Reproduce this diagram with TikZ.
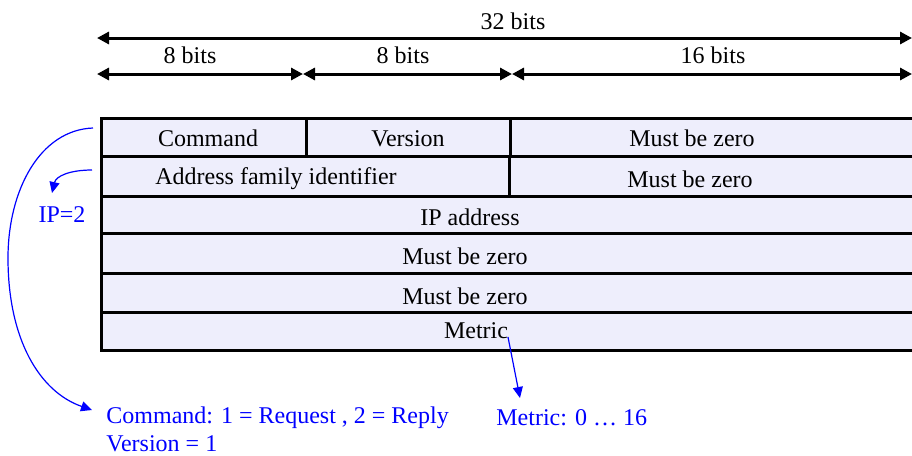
\documentclass[tikz,border=0pt]{standalone}
\usepackage{fontspec}
\setmainfont{Liberation Serif}
\usetikzlibrary{arrows.meta}
\definecolor{cellfill}{RGB}{238,238,252}

\tikzset{
    cell/.style={draw=black, line width=1.5pt, fill=cellfill},
    span/.style={line width=1.5pt, {Triangle[length=6pt,width=6pt]}-{Triangle[length=6pt,width=6pt]}},
    field/.style={inner sep=0pt},
    note/.style={text=blue, inner sep=0pt, anchor=west},
    pointer/.style={blue, line width=0.6pt, -{Triangle[length=5.5pt,width=5pt]}},
}

\begin{document}
\begin{tikzpicture}[x=0.5pt, y=-0.5pt, font=\fontsize{12}{14}\selectfont]
    \useasboundingbox (0,0) rectangle (912,456);

    % Bit widths
    \coordinate (W0) at (97,38);
    \coordinate (W1) at (912,38);
    \coordinate (B0) at (97,74);
    \coordinate (B1) at (303,74);
    \coordinate (B2) at (512,74);
    \coordinate (B3) at (912,74);

    \draw[span] (W0) -- (W1);
    \draw[span] (B0) -- (B1);
    \draw[span] (B1) -- (B2);
    \draw[span] (B2) -- (B3);

    \node[field] (w32) at (513,21) {32 bits};
    \node[field] (w8a) at (190,55) {8 bits};
    \node[field] (w8b) at (403,55) {8 bits};
    \node[field] (w16) at (713,55) {16 bits};

    % Table
    \filldraw[cell] (101,118) rectangle (306,156);
    \filldraw[cell] (306,118) rectangle (510,156);
    \filldraw[cell] (510,118) rectangle (913,156);
    \filldraw[cell] (101,156) rectangle (509,196);
    \filldraw[cell] (509,156) rectangle (913,196);
    \filldraw[cell] (101,196) rectangle (913,233);
    \filldraw[cell] (101,233) rectangle (913,273);
    \filldraw[cell] (101,273) rectangle (913,312);
    \filldraw[cell] (101,312) rectangle (913,350);

    \node[field] (cmd) at (208,138) {Command};
    \node[field] (ver) at (408,139) {Version};
    \node[field] (mbz1) at (692,138) {Must be zero};
    \node[field] (afi) at (276,179) {Address family identifier};
    \node[field] (mbz2) at (690,179) {Must be zero};
    \node[field] (ip) at (470,217) {IP address};
    \node[field] (mbz3) at (465,256) {Must be zero};
    \node[field] (mbz4) at (465,296) {Must be zero};
    \node[field] (met) at (476,331) {Metric};

    % Notes
    \node[text=blue, inner sep=0pt] (ipnote) at (62,215) {IP=2};
    \node[note] (cmdnote) at (106,418) {Command: 1 = Request , 2 = Reply};
    \node[note] (vernote) at (106,444) {Version = 1};
    \node[note] (metnote) at (496,418) {Metric: 0 \dots\ 16};

    \coordinate (P1) at (93,128);
    \coordinate (P1end) at (92,410);
    \coordinate (P2) at (92,170);
    \coordinate (P2end) at (52,193);
    \coordinate (P3) at (508,337);
    \coordinate (P3end) at (520,398);

    \draw[pointer] (P1) .. controls (40,130) and (8,190) .. (8,258)
        .. controls (8,340) and (40,392) .. (P1end);
    \draw[pointer] (P2) .. controls (70,170) and (56,176) .. (P2end);
    \draw[pointer] (P3) -- (P3end);

\end{tikzpicture}
\end{document}
